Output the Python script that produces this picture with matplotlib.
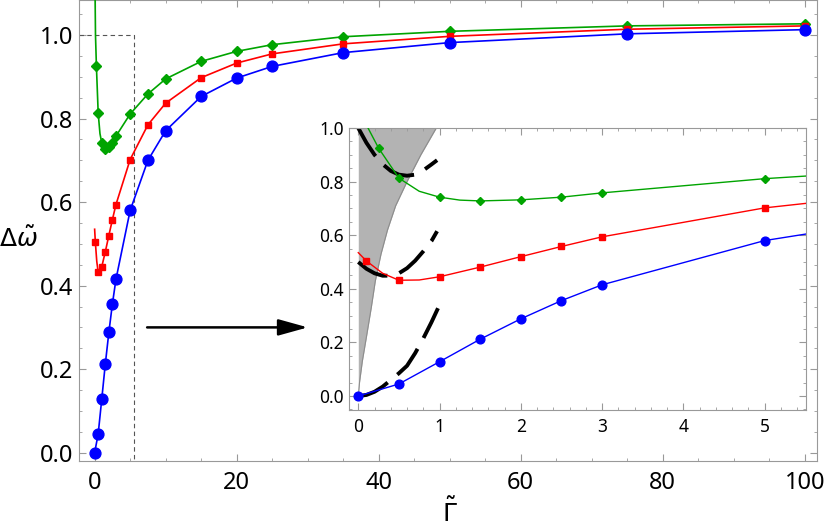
import numpy as np
import matplotlib
matplotlib.use("Agg")
from matplotlib import pyplot as plt
import matplotlib.ticker as ticker

plt.rcParams['font.family'] = ['Noto Sans', 'DejaVu Sans']
plt.rcParams['mathtext.fontset'] = 'dejavusans'

# data
gam_blue = [0, 0.5, 1, 1.5, 2, 2.5, 3, 5, 7.5, 10, 15, 20, 25, 35, 50, 75, 100]
blue = [0.0, 0.045, 0.128, 0.212, 0.288, 0.356, 0.415, 0.58, 0.70, 0.771,
        0.853, 0.897, 0.925, 0.958, 0.982, 1.003, 1.013]

gam_red = [0.1, 0.5, 1, 1.5, 2, 2.5, 3, 5, 7.5, 10, 15, 20, 25, 35, 50, 75, 100]
red = [0.504, 0.432, 0.445, 0.481, 0.520, 0.558, 0.594, 0.702, 0.785, 0.837,
       0.898, 0.933, 0.955, 0.979, 0.997, 1.014, 1.022]
# extra points on the red curve (no marker)
gam_red_line = [0, 0.3, 0.75]
red_line = [0.535, 0.458, 0.433]

gam_green = [0.25, 0.5, 1, 1.5, 2, 2.5, 3, 5, 7.5, 10, 15, 20, 25, 35, 50, 75, 100]
green = [0.925, 0.813, 0.742, 0.728, 0.732, 0.742, 0.758, 0.811, 0.859, 0.895,
         0.937, 0.961, 0.977, 0.996, 1.009, 1.022, 1.027]
gam_green_line = [0.06, 0.12, 0.75, 1.25]
green_line = [1.1, 1.0, 0.764, 0.731]

# dashed small-gamma approximations (inset)
gam_dash = [0, 0.1, 0.2, 0.3, 0.4, 0.5, 0.6, 0.7, 0.8, 0.9, 0.97]
dash_top = [1.0, 0.945, 0.9, 0.865, 0.84, 0.826, 0.822, 0.826, 0.842, 0.864, 0.88]
gam_dash2 = [0, 0.1, 0.2, 0.3, 0.4, 0.5, 0.6, 0.7, 0.8, 0.9, 0.97]
dash_mid = [0.5, 0.475, 0.458, 0.449, 0.449, 0.458, 0.477, 0.505, 0.54, 0.578, 0.615]
gam_dash3 = [0, 0.1, 0.2, 0.3, 0.4, 0.5, 0.6, 0.7, 0.8, 0.9, 1.0]
dash_low = [0.0, 0.004, 0.016, 0.035, 0.06, 0.085, 0.113, 0.16, 0.215, 0.275, 0.34]

# boundary of the grey region
bound_y = [0, 0.05, 0.13, 0.22, 0.33, 0.43, 0.53, 0.62, 0.71, 0.8, 0.9, 1.0]
bound_x = [0, 0.015, 0.05, 0.10, 0.16, 0.21, 0.28, 0.36, 0.46, 0.60, 0.77, 0.96]

c_blue = '#0000ff'
c_red = '#ff0000'
c_green = '#00a400'
spine_c = '#999999'


def merge(g1, v1, g2, v2):
    g = np.array(g1 + g2)
    v = np.array(v1 + v2)
    o = np.argsort(g)
    return g[o], v[o]


def style_axes(ax, labelsize):
    for s in ax.spines.values():
        s.set_color(spine_c)
    ax.tick_params(which='both', direction='in', top=True, right=True,
                   color=spine_c, labelsize=labelsize, labelcolor='black')
    ax.tick_params(which='major', length=5)
    ax.tick_params(which='minor', length=2.5)
    ax.yaxis.set_major_formatter(ticker.FormatStrFormatter('%.1f'))


def draw_series(ax, lw, ms_c, ms_s, ms_d):
    gx, gy = merge(gam_green, green, gam_green_line, green_line)
    rx, ry = merge(gam_red, red, gam_red_line, red_line)
    ax.plot(gx, gy, color=c_green, lw=lw, zorder=3)
    ax.plot(rx, ry, color=c_red, lw=lw, zorder=3)
    ax.plot(gam_blue, blue, color=c_blue, lw=lw, zorder=3)
    ax.plot(gam_green, green, 'D', color=c_green, ms=ms_d, zorder=4)
    ax.plot(gam_red, red, 's', color=c_red, ms=ms_s, zorder=4)
    ax.plot(gam_blue, blue, 'o', color=c_blue, ms=ms_c, zorder=4)


fig = plt.figure(figsize=(8.3, 5.29), dpi=100)
ax = fig.add_axes([0.0952, 0.1285, 0.889, 0.8715])

draw_series(ax, 1.2, 7.8, 4.8, 5.2)

xmin, xmax = -2.2, 101.7
ymin, ymax = -0.02, 1.084
ax.set_xlim(xmin, xmax)
ax.set_ylim(ymin, ymax)

# dashed box marking the zoomed region
ax.plot([xmin, 5.5, 5.5], [1.0, 1.0, ymin], ls=(0, (4, 3)), color='#555555', lw=0.8, zorder=2)

ax.xaxis.set_major_locator(ticker.MultipleLocator(20))
ax.xaxis.set_minor_locator(ticker.MultipleLocator(5))
ax.yaxis.set_major_locator(ticker.MultipleLocator(0.2))
ax.yaxis.set_minor_locator(ticker.MultipleLocator(0.05))
style_axes(ax, 17)
ax.tick_params(axis='x', pad=7)
ax.tick_params(axis='y', pad=4)

ax.set_xlabel(r'$\tilde{\Gamma}$', fontsize=18)
ax.xaxis.set_label_coords(0.503, -0.082)
ax.set_ylabel(r'$\Delta\tilde{\omega}$', fontsize=18, rotation=0, va='center', ha='center')
ax.yaxis.set_label_coords(-0.082, 0.479)

# arrow pointing to the inset
ax.annotate('', xy=(30.4, 0.30), xytext=(7.0, 0.30),
            arrowprops=dict(arrowstyle='-|>,head_length=0.9,head_width=0.25',
                            color='black', lw=1.8, mutation_scale=20))

# inset
axi = fig.add_axes([0.4205, 0.225, 0.5506, 0.533])
axi.fill_betweenx(bound_y, 0, bound_x, color='#b3b3b3', lw=0, zorder=1)
axi.plot(bound_x, bound_y, color='#8c8c8c', lw=0.8, zorder=1.5)

for gx, gy in [(gam_dash, dash_top), (gam_dash2, dash_mid), (gam_dash3, dash_low)]:
    axi.plot(gx, gy, color='black', lw=2.8, ls=(0, (8.5, 3.2)), zorder=2)

draw_series(axi, 1.0, 6.3, 4.0, 4.5)

axi.set_xlim(-0.114, 5.51)
axi.set_ylim(-0.052, 1.0)
axi.xaxis.set_major_locator(ticker.MultipleLocator(1))
axi.xaxis.set_minor_locator(ticker.MultipleLocator(0.2))
axi.yaxis.set_major_locator(ticker.MultipleLocator(0.2))
axi.yaxis.set_minor_locator(ticker.MultipleLocator(0.05))
style_axes(axi, 12.5)
axi.tick_params(axis='x', pad=6)

plt.savefig('out.png', dpi=100)
